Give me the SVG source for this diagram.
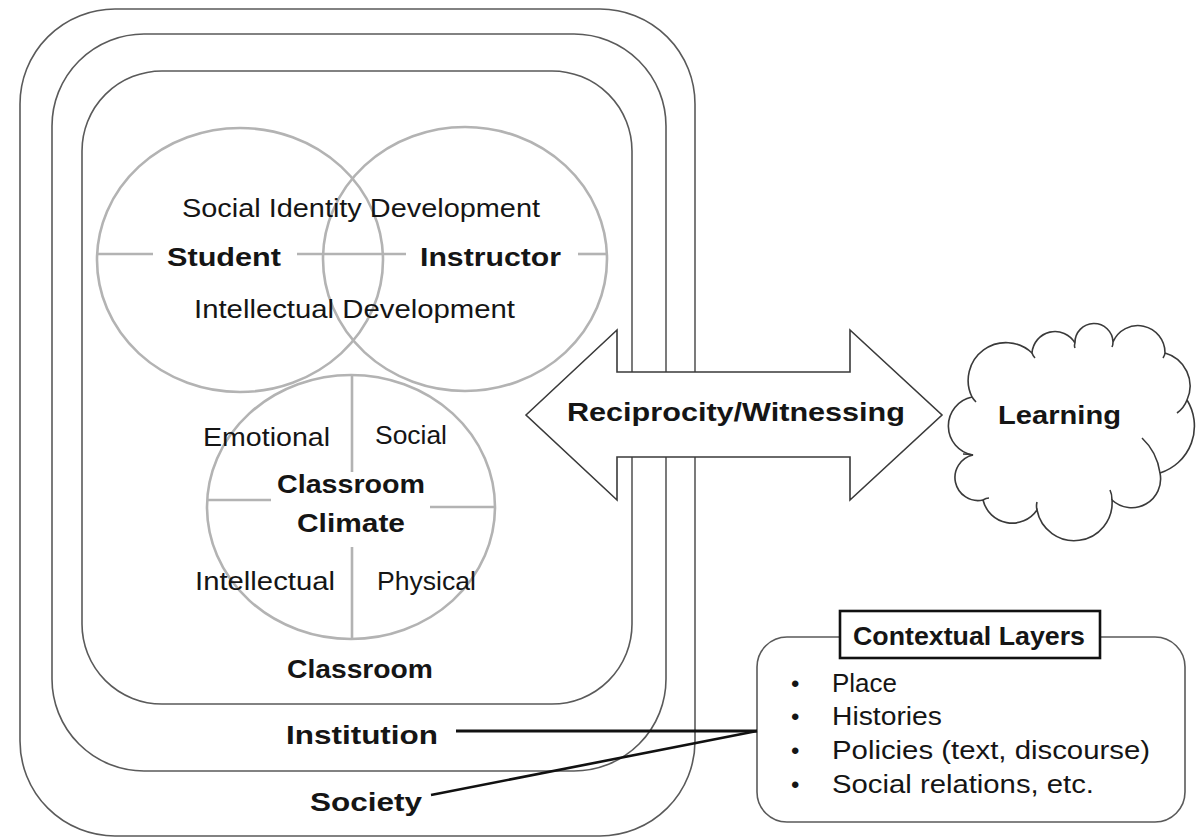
<svg xmlns="http://www.w3.org/2000/svg" width="1202" height="838" viewBox="0 0 1202 838">
<style>
.layer{fill:none;stroke:#5a5a5a;stroke-width:1.6}
.venn{fill:none;stroke:#b3b3b3;stroke-width:2.6}
.t{font-family:"Liberation Sans",Arial,sans-serif;fill:#151515}
.r{font-size:25px}
.b{font-size:26px;font-weight:bold}
.shape{fill:#fff;stroke:#3a3a3a;stroke-width:1.6}
.conn{stroke:#111;fill:none}
</style>
<rect width="1202" height="838" fill="#fff"/>
<g id="society"><rect class="layer" x="20" y="9" width="675" height="827" rx="95"/>
<text class="t b" x="310" y="811" textLength="112" lengthAdjust="spacingAndGlyphs">Society</text></g>
<g id="institution"><rect class="layer" x="52" y="34" width="614" height="737" rx="92"/>
<text class="t b" x="286" y="744" textLength="152" lengthAdjust="spacingAndGlyphs">Institution</text></g>
<g id="classroom"><rect class="layer" x="82" y="71" width="550" height="633" rx="80"/>
<text class="t b" x="287" y="678" textLength="146" lengthAdjust="spacingAndGlyphs">Classroom</text></g>
<g id="student"><ellipse class="venn" cx="240" cy="260" rx="143" ry="132"/>
<line class="venn" x1="97" y1="254" x2="153" y2="254"/>
<text class="t b" x="167" y="266" textLength="114" lengthAdjust="spacingAndGlyphs">Student</text></g>
<g id="instructor"><ellipse class="venn" cx="465" cy="259" rx="142" ry="132"/>
<line class="venn" x1="297" y1="254" x2="406" y2="254"/>
<line class="venn" x1="578" y1="254" x2="607" y2="254"/>
<text class="t b" x="420" y="266" textLength="141" lengthAdjust="spacingAndGlyphs">Instructor</text></g>
<g id="venn-labels">
<text class="t r" x="182" y="217" textLength="358" lengthAdjust="spacingAndGlyphs">Social Identity Development</text>
<text class="t r" x="194" y="318" textLength="321" lengthAdjust="spacingAndGlyphs">Intellectual Development</text></g>
<g id="classroom-climate"><ellipse class="venn" cx="351" cy="507" rx="144" ry="132"/>
<line class="venn" x1="352" y1="375" x2="352" y2="472"/>
<line class="venn" x1="352" y1="547" x2="352" y2="639"/>
<line class="venn" x1="207" y1="500" x2="271" y2="500"/>
<line class="venn" x1="430" y1="507" x2="495" y2="507"/>
<text class="t r" x="203" y="446" textLength="127" lengthAdjust="spacingAndGlyphs">Emotional</text>
<text class="t r" x="375" y="444" textLength="72" lengthAdjust="spacingAndGlyphs">Social</text>
<text class="t b" x="277" y="493" textLength="148" lengthAdjust="spacingAndGlyphs">Classroom</text>
<text class="t b" x="297" y="532" textLength="108" lengthAdjust="spacingAndGlyphs">Climate</text>
<text class="t r" x="195" y="590" textLength="140" lengthAdjust="spacingAndGlyphs">Intellectual</text>
<text class="t r" x="377" y="590" textLength="99" lengthAdjust="spacingAndGlyphs">Physical</text></g>
<g id="reciprocity"><polygon class="shape" points="526,415 617,330 617,372 850,372 850,330 942,415 850,500 850,457 617,457 617,500"/>
<text class="t b" x="567" y="421" textLength="338" lengthAdjust="spacingAndGlyphs">Reciprocity/Witnessing</text></g>
<g id="learning"><path class="shape" d="M972,397 A37.8,37.8 0 0 1 1032,353 A23.1,23.1 0 0 1 1075,343 A19,19 0 0 1 1113,342 A27.1,27.1 0 0 1 1165,353 A34.2,34.2 0 0 1 1187,400 A49.3,49.3 0 0 1 1160,473 A28.9,28.9 0 0 1 1112,500 A37.9,37.9 0 0 1 1037,510 A30,30 0 0 1 983,500 A23,23 0 0 1 973,455 A29.5,29.5 0 0 1 972,397 Z"/>
<path fill="none" stroke="#3a3a3a" stroke-width="1.6" d="M972,397 q2,3 4,5 M1032,353 q1,3 3,5 M1075,343 q-1,3 0,5 M1113,342 q0,3 -1,5 M1165,353 q0,2 -2,5 M1187,400 q-3,8 -10,13 M1142,438 q15,14 18,35 M1112,500 q0,-6 -2,-10 M1037,510 q-1,-4 0,-8 M983,500 q3,-2 6,-2 M973,455 q-6,-1 -10,-1"/>
<text class="t b" x="998" y="424" textLength="123" lengthAdjust="spacingAndGlyphs">Learning</text></g>
<g id="contextual-layers"><rect class="layer" x="757" y="637" width="428" height="185" rx="30"/>
<rect x="840" y="611" width="260" height="47" fill="#fff" stroke="#111" stroke-width="2.6"/>
<text class="t b" x="853" y="645" font-size="24" textLength="232" lengthAdjust="spacingAndGlyphs">Contextual Layers</text>
<g class="t" font-size="24"><text x="791" y="692">•</text><text x="791" y="725">•</text><text x="791" y="759">•</text><text x="791" y="793">•</text></g>
<text class="t r" x="832" y="692" textLength="65" lengthAdjust="spacingAndGlyphs">Place</text>
<text class="t r" x="832" y="725" textLength="110" lengthAdjust="spacingAndGlyphs">Histories</text>
<text class="t r" x="832" y="759" textLength="318" lengthAdjust="spacingAndGlyphs">Policies (text, discourse)</text>
<text class="t r" x="832" y="793" textLength="262" lengthAdjust="spacingAndGlyphs">Social relations, etc.</text></g>
<g id="connectors">
<line class="conn" stroke-width="3" x1="456" y1="731" x2="757" y2="731"/>
<line class="conn" stroke-width="2.6" x1="431" y1="795" x2="757" y2="731"/>
</g>
</svg>
